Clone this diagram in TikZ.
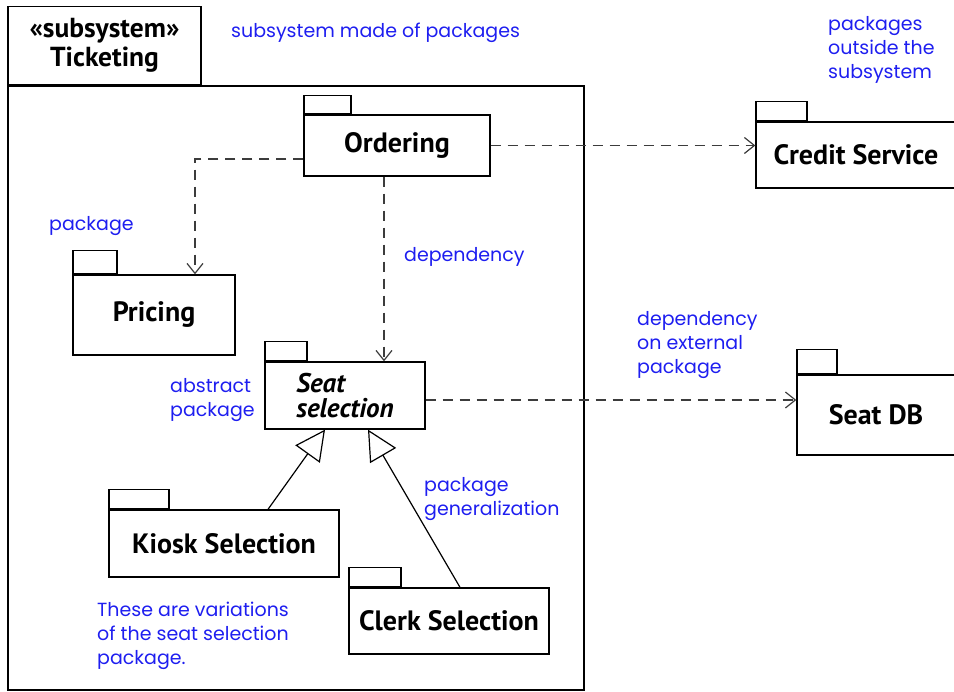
\documentclass[tikz,border=0pt]{standalone}
\usepackage{fontspec}
\setmainfont{PT Sans}
\newfontfamily\notefont{Poppins}
\usepackage{xcolor}
\usetikzlibrary{arrows.meta, positioning}
\definecolor{noteblue}{RGB}{30,30,240}
\definecolor{depgray}{RGB}{60,60,60}

\begin{document}
\begin{tikzpicture}[
    x=1pt, y=-1pt,
    pkg/.style={draw, line width=1.3pt, fill=white, inner sep=0pt, align=center, font=\fontsize{28}{25}\selectfont\bfseries},
    tab/.style={draw, line width=1.3pt, fill=white, inner sep=0pt, anchor=south west},
    note/.style={text=noteblue, align=left, anchor=west, inner sep=0pt, font=\notefont\fontsize{19}{24}\selectfont},
    dep/.style={draw=depgray, line width=1.2pt, dash pattern=on 10pt off 7pt, -{Straight Barb[length=10pt, width=16pt]}},
    gen/.style={line width=1.2pt, -{Triangle[open, length=30pt, width=30pt, fill=white]}},
]
\useasboundingbox (0,0) rectangle (954,692);

% Subsystem frame
\node[draw, line width=1.3pt, minimum width=576, minimum height=604] (subsys) at (296,388) {};
\node[tab, minimum width=193, minimum height=78, align=center, font=\fontsize{27.5}{29}\selectfont\bfseries] (subsysTab) at (subsys.north west) {«subsystem»\\Ticketing};

% Packages inside the subsystem
\node[pkg, minimum width=186, minimum height=61] (ordering) at (397,145.5) {Ordering};
\node[tab, minimum width=47, minimum height=18] (orderingTab) at (ordering.north west) {};

\node[pkg, minimum width=162, minimum height=80] (pricing) at (154,315) {Pricing};
\node[tab, minimum width=44, minimum height=23] (pricingTab) at (pricing.north west) {};

\node[pkg, minimum width=160, minimum height=67, align=left, font=\fontsize{27}{25}\selectfont\bfseries\itshape] (seatsel) at (345,395.5) {Seat\\selection};
\node[tab, minimum width=42, minimum height=19] (seatselTab) at (seatsel.north west) {};

\node[pkg, minimum width=230, minimum height=67] (kiosk) at (224,543.5) {Kiosk Selection};
\node[tab, minimum width=60, minimum height=19] (kioskTab) at (kiosk.north west) {};

\node[pkg, minimum width=200, minimum height=66] (clerk) at (449,621) {Clerk Selection};
\node[tab, minimum width=52, minimum height=19] (clerkTab) at (clerk.north west) {};

% External packages
\node[pkg, minimum width=200, minimum height=66] (credit) at (856,155) {Credit Service};
\node[tab, minimum width=51, minimum height=19] (creditTab) at (credit.north west) {};

\node[pkg, minimum width=158, minimum height=80] (seatdb) at (876,415) {Seat DB};
\node[tab, minimum width=40, minimum height=24] (seatdbTab) at (seatdb.north west) {};

% Dependencies
\draw[dep] ([yshift=-13.5pt]ordering.west) -| ([xshift=41pt]pricing.north);
\draw[dep] ([xshift=-13pt]ordering.south) -- ([xshift=-13pt]ordering.south |- seatsel.north);
\draw[dep] (ordering.east) -- (ordering.east -| credit.west);
\draw[dep] ([yshift=-4.5pt]seatsel.east) -- ([yshift=-4.5pt]seatsel.east -| seatdb.west);

% Generalizations
\draw[gen] ([xshift=44pt]kiosk.north) -- ([xshift=-20pt]seatsel.south);
\draw[gen] ([xshift=11pt]clerk.north) -- ([xshift=23pt]seatsel.south);

% Notes
\node[note] (noteSubsys) at (231,33) {subsystem made of packages};
\node[note] (noteOutside) at (828,50) {packages\\outside the\\subsystem};
\node[note] (notePkg) at (49,226) {package};
\node[note] (noteDep) at (404,257) {dependency};
\node[note] (noteExt) at (637,345) {dependency\\on external\\package};
\node[note] (noteAbs) at (170,400) {abstract\\package};
\node[note] (noteGen) at (424,499) {package\\generalization};
\node[note] (noteVar) at (97,636) {These are variations\\of the seat selection\\package.};

\end{tikzpicture}
\end{document}
